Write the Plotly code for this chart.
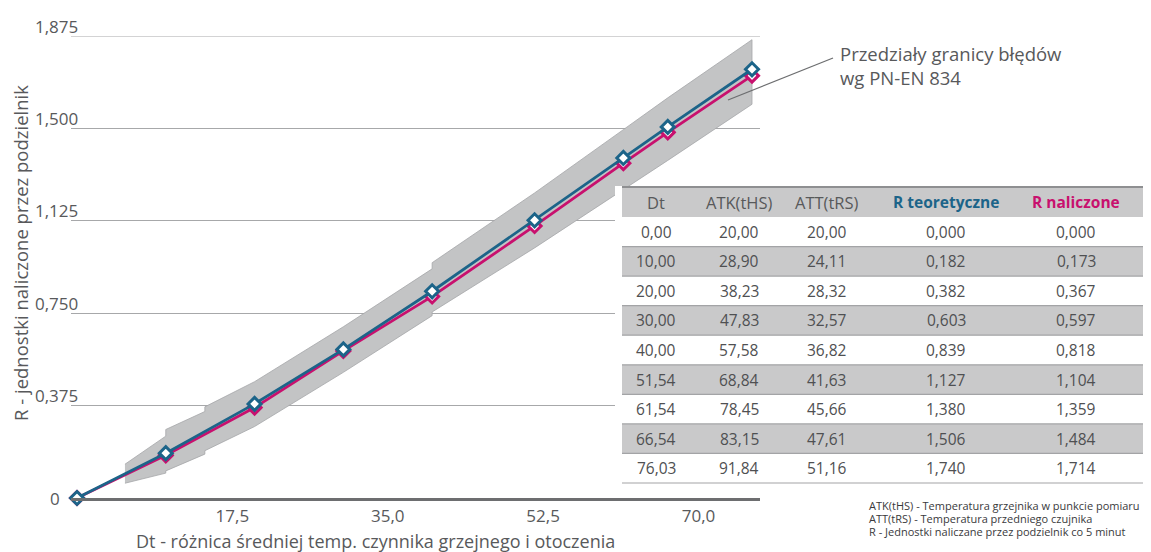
import plotly.graph_objects as go

# ---------------- data ----------------
dt = [0.00, 10.00, 20.00, 30.00, 40.00, 51.54, 61.54, 66.54, 76.03]
atk = [20.00, 28.90, 38.23, 47.83, 57.58, 68.84, 78.45, 83.15, 91.84]
att = [20.00, 24.11, 28.32, 32.57, 36.82, 41.63, 45.66, 47.61, 51.16]
r_teor = [0.000, 0.182, 0.382, 0.603, 0.839, 1.127, 1.380, 1.506, 1.740]
r_nal = [0.000, 0.173, 0.367, 0.597, 0.818, 1.104, 1.359, 1.484, 1.714]

# error-limit band (PN-EN 834)
band_dt = [5.4, 10, 10, 14.4, 14.4, 20, 30, 40, 40, 51.54, 61.54, 66.54, 76.03]
band_upper = [0.137, 0.251, 0.278, 0.351, 0.370, 0.472, 0.695, 0.930, 0.955, 1.238, 1.495, 1.624, 1.860]
band_lower = [0.060, 0.101, 0.110, 0.178, 0.192, 0.290, 0.510, 0.740, 0.755, 1.015, 1.252, 1.370, 1.598]

x_tickvals = [17.5, 35.0, 52.5, 70.0]
x_ticktext = ["17,5", "35,0", "52,5", "70,0"]
y_tickvals = [0, 0.375, 0.750, 1.125, 1.500, 1.875]
y_ticktext = ["0", "0,375", "0,750", "1,125", "1,500", "1,875"]

table_header = ["Dt", "ATK(tHS)", "ATT(tRS)", "R teoretyczne", "R naliczone"]


def fmt(v, d):
    return f"{v:.{d}f}".replace(".", ",")


table_cols = [
    [fmt(v, 2) for v in dt],
    [fmt(v, 2) for v in atk],
    [fmt(v, 2) for v in att],
    [fmt(v, 3) for v in r_teor],
    [fmt(v, 3) for v in r_nal],
]

footnotes = [
    "ATK(tHS) - Temperatura grzejnika w punkcie pomiaru",
    "ATT(tRS) - Temperatura przedniego czujnika",
    "R - Jednostki naliczane przez podzielnik co 5 minut",
]

# ---------------- style ----------------
OFF = 8                      # page body margin of the html page
W, H = 1151 - OFF, 552 - OFF
ML, MT = 71 - OFF, 36 - OFF
PLOT_R, PLOT_B = 760 - OFF, 498 - OFF
MR, MB = W - PLOT_R, H - PLOT_B
PW, PH = W - ML - MR, H - MT - MB
FONT = "Open Sans"
GRAY_TXT = "#58595b"
BLUE = "#1c6489"
MAGENTA = "#c8106e"


def px(xp):
    return (xp - OFF - ML) / PW


def py(yp):
    return (H - MB - (yp - OFF)) / PH


fig = go.Figure()

# band
fig.add_trace(go.Scatter(
    x=band_dt + band_dt[::-1],
    y=band_upper + band_lower[::-1],
    fill="toself", fillcolor="#c3c4c5",
    line=dict(color="#a5a6a8", width=0.8),
    mode="lines", hoverinfo="skip", showlegend=False,
))

fig.add_trace(go.Scatter(
    x=dt, y=r_nal, mode="lines+markers", name="R naliczone",
    line=dict(color=MAGENTA, width=2.8),
    marker=dict(symbol="diamond", size=10, color="white",
                line=dict(color=MAGENTA, width=3)),
    cliponaxis=False, showlegend=False,
))
fig.add_trace(go.Scatter(
    x=dt, y=r_teor, mode="lines+markers", name="R teoretyczne",
    line=dict(color=BLUE, width=2.8),
    marker=dict(symbol="diamond", size=10, color="white",
                line=dict(color=BLUE, width=3)),
    cliponaxis=False, showlegend=False,
))

shapes = []
annotations = []

# y tick labels
for v, t in zip(y_tickvals, y_ticktext):
    annotations.append(dict(
        xref="paper", yref="y", x=px(62 if v == 0 else 80), y=v,
        xanchor="right", yanchor="middle", yshift=0 if v == 0 else 10,
        text=t, showarrow=False, font=dict(family=FONT, size=17, color=GRAY_TXT),
    ))

# axis titles
annotations.append(dict(
    xref="paper", yref="paper", x=px(375), y=py(541), xanchor="center", yanchor="middle",
    text="Dt - różnica średniej temp. czynnika grzejnego i otoczenia", showarrow=False,
    font=dict(family=FONT, size=18, color=GRAY_TXT),
))
annotations.append(dict(
    xref="paper", yref="paper", x=px(20), y=py(253), xanchor="center", yanchor="middle",
    text="R - jednostki naliczone przez podzielnik", textangle=-90, showarrow=False,
    font=dict(family=FONT, size=18.5, color=GRAY_TXT),
))

# band callout
annotations.append(dict(
    xref="paper", yref="paper", x=px(838), y=py(65), xanchor="left", yanchor="middle",
    text="Przedziały granicy błędów<br>wg PN-EN 834", align="left", showarrow=False,
    font=dict(family=FONT, size=18.5, color=GRAY_TXT),
))
shapes.append(dict(type="line", xref="paper", yref="paper",
                   x0=px(728), y0=py(100), x1=px(833), y1=py(58),
                   line=dict(color="#6d6e70", width=1.3), layer="above"))

# top gridline (at the range edge)
shapes.append(dict(type="line", xref="paper", yref="y", x0=0, x1=1,
                   y0=y_tickvals[-1], y1=y_tickvals[-1],
                   line=dict(color="#a7a8aa", width=1), layer="below"))

# table
T_LEFT, T_RIGHT = 622, 1151
HDR_TOP, HDR_BOT = 187, 217
ROW_H = (483 - HDR_BOT) / len(dt)
col_centers = [656, 739, 827, 946, 1076]

shapes.append(dict(type="rect", xref="paper", yref="paper",
                   x0=px(615), x1=px(1151), y0=py(HDR_TOP - 1), y1=py(486),
                   fillcolor="white", line=dict(width=0), layer="above"))
shapes.append(dict(type="rect", xref="paper", yref="paper",
                   x0=px(T_LEFT), x1=px(T_RIGHT), y0=py(HDR_TOP), y1=py(HDR_BOT),
                   fillcolor="#c9c9ca", line=dict(width=0), layer="above"))
shapes.append(dict(type="line", xref="paper", yref="paper",
                   x0=px(T_LEFT), x1=px(T_RIGHT), y0=py(HDR_TOP), y1=py(HDR_TOP),
                   line=dict(color="#8e8f91", width=2), layer="above"))
for i in range(len(dt)):
    top = HDR_BOT + i * ROW_H
    bot = top + ROW_H
    if i % 2 == 1:
        shapes.append(dict(type="rect", xref="paper", yref="paper",
                           x0=px(T_LEFT), x1=px(T_RIGHT), y0=py(top), y1=py(bot),
                           fillcolor="#c9c9ca", line=dict(width=0), layer="above"))
        for yy in (top, bot):
            shapes.append(dict(type="line", xref="paper", yref="paper",
                               x0=px(T_LEFT), x1=px(T_RIGHT), y0=py(yy), y1=py(yy),
                               line=dict(color="#a3a4a6", width=1.2), layer="above"))
shapes.append(dict(type="line", xref="paper", yref="paper",
                   x0=px(T_LEFT), x1=px(T_RIGHT), y0=py(483), y1=py(483),
                   line=dict(color="#a3a4a6", width=1.2), layer="above"))

hdr_colors = [GRAY_TXT, GRAY_TXT, GRAY_TXT, BLUE, MAGENTA]
hdr_sizes = [16.5, 16.5, 16.5, 15.5, 15.5]
for c, (h, col) in enumerate(zip(table_header, hdr_colors)):
    annotations.append(dict(
        xref="paper", yref="paper", x=px(col_centers[c]), y=py((HDR_TOP + HDR_BOT) / 2),
        xanchor="center", yanchor="middle", showarrow=False,
        text=f"<b>{h}</b>" if c >= 3 else h,
        font=dict(family=FONT, size=hdr_sizes[c], color=col),
    ))
for c, colvals in enumerate(table_cols):
    for i, t in enumerate(colvals):
        annotations.append(dict(
            xref="paper", yref="paper", x=px(col_centers[c]),
            y=py(HDR_BOT + (i + 0.5) * ROW_H),
            xanchor="center", yanchor="middle", showarrow=False, text=t,
            font=dict(family=FONT, size=15.5, color="#4f5052"),
        ))

# footnotes
for k, t in enumerate(footnotes):
    annotations.append(dict(
        xref="paper", yref="paper", x=px(867), y=py(505 + 13 * k),
        xanchor="left", yanchor="middle", showarrow=False, text=t,
        font=dict(family=FONT, size=11, color="#3a3a3c"),
    ))

fig.update_layout(
    width=W, height=H,
    margin=dict(l=ML, r=MR, t=MT, b=MB, pad=0),
    paper_bgcolor="white", plot_bgcolor="white",
    font=dict(family=FONT, color=GRAY_TXT),
    showlegend=False,
    shapes=shapes, annotations=annotations,
    xaxis=dict(
        range=[-0.676, 76.93], tickvals=x_tickvals, ticktext=x_ticktext,
        showgrid=False, zeroline=False, showline=True, linecolor="#6d6e70", linewidth=3,
        ticks="", tickfont=dict(family=FONT, size=17, color=GRAY_TXT),
        ticklabelstandoff=1,
    ),
    yaxis=dict(
        range=[0, 1.875], tickvals=y_tickvals, showticklabels=False,
        showgrid=True, gridcolor="#a7a8aa", gridwidth=1, zeroline=False, ticks="",
    ),
)

fig.write_html("out.html")
